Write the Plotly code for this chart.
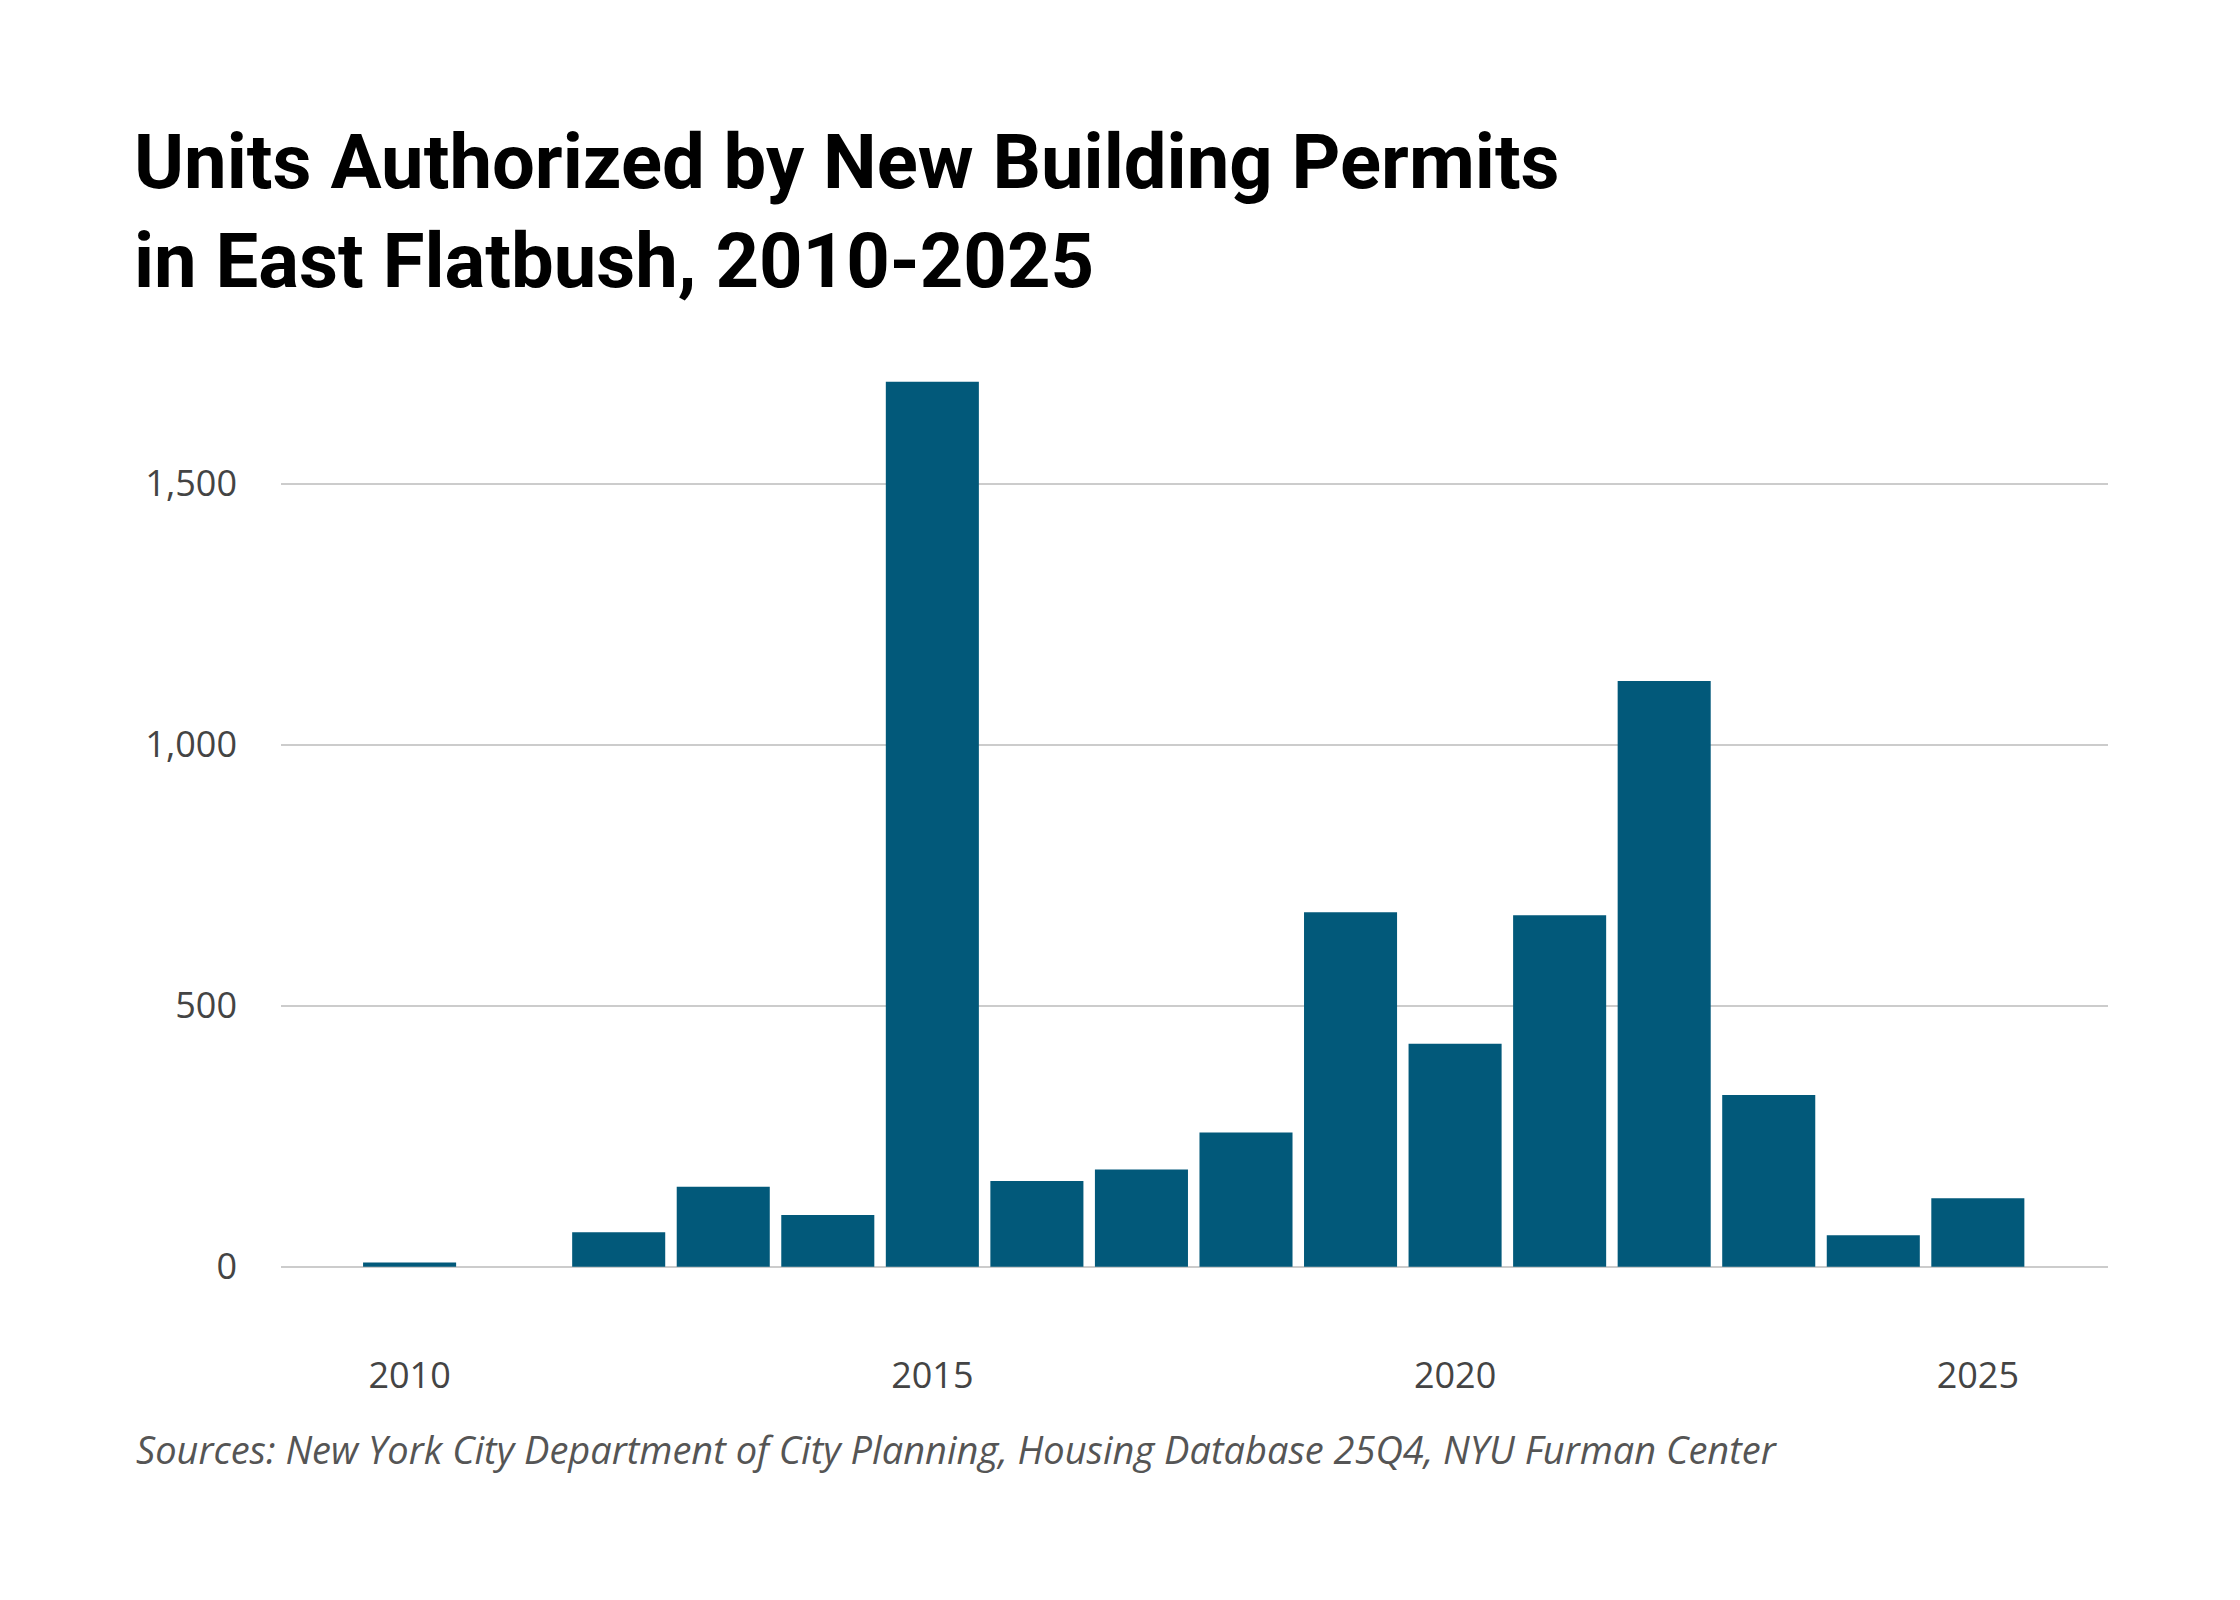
import plotly.graph_objects as go

years = list(range(2010, 2026))
units = [8, 0, 66, 153, 99, 1695, 164, 186, 257, 679, 427, 673, 1122, 329, 60, 131]

y_ticks = [0, 500, 1000, 1500]
y_labels = ["0", "500", "1,000", "1,500"]
x_ticks = [2010, 2015, 2020, 2025]

title = "Units Authorized by New Building Permits<br>in East Flatbush, 2010-2025"
source = "Sources: New York City Department of City Planning, Housing Database 25Q4, NYU Furman Center"

W, H = 2240, 1600
L, R, T, B = 273, 140, 319, 263

fig = go.Figure(go.Bar(x=years, y=units, marker_color="#02597a", marker_line_width=0))

fig.update_layout(
    width=W,
    height=H,
    paper_bgcolor="white",
    plot_bgcolor="white",
    bargap=0.11,
    showlegend=False,
    margin={"l": L, "r": R, "t": T, "b": B},
    font={"family": "Open Sans", "color": "#444444"},
    title={
        "text": title,
        "x": 126 / W,
        "xanchor": "left",
        "y": 1 - 180 / H,
        "yanchor": "top",
        "font": {"family": "Roboto", "size": 76, "color": "black", "weight": "bold"},
    },
)
fig.update_xaxes(
    tickvals=x_ticks,
    range=[2008.77, 2026.245],
    showgrid=False,
    zeroline=False,
    showline=False,
    ticks="",
    ticklabelstandoff=6,
    tickfont={"size": 36, "color": "#444444"},
)
fig.update_yaxes(
    tickvals=y_ticks,
    ticktext=y_labels,
    range=[-150, 1800],
    showgrid=True,
    gridcolor="#cccccc",
    gridwidth=2,
    zeroline=False,
    ticks="",
    ticklabelstandoff=43,
    tickfont={"size": 36, "color": "#444444"},
)
fig.add_annotation(
    text=source,
    xref="paper", yref="paper",
    x=(126 - L) / (W - L - R),
    y=1 - (1441 - T) / (H - T - B),
    xanchor="left", yanchor="middle",
    showarrow=False,
    font={"family": "Open Sans", "size": 38, "color": "#555555", "style": "italic"},
)

fig.write_html("out.html")
